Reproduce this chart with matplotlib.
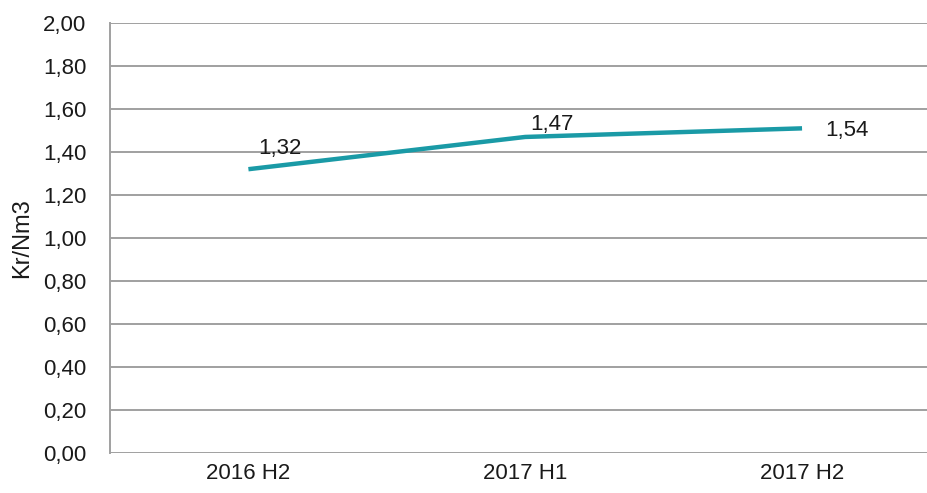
import matplotlib.pyplot as plt

plt.rcParams['font.family'] = ['Liberation Sans', 'DejaVu Sans']

periods = ['2016 H2', '2017 H1', '2017 H2']
prices = [1.32, 1.47, 1.51]
price_labels = ['1,32', '1,47', '1,54']
yticks = [0.0, 0.2, 0.4, 0.6, 0.8, 1.0, 1.2, 1.4, 1.6, 1.8, 2.0]

fig = plt.figure(figsize=(9.28, 4.93), dpi=100)
ax = fig.add_axes([110 / 928, 40 / 493, 818 / 928, 430 / 493])

x = list(range(len(periods)))
ax.plot(x, prices, color='#1a9aa6', lw=3.2, solid_capstyle='butt', zorder=3)

# label offsets in pixels
offsets = [(32, 21), (27, 12), (45, -2)]
for xi, yi, lab, off in zip(x, prices, price_labels, offsets):
    ax.annotate(lab, (xi, yi), xytext=off, textcoords='offset pixels',
                ha='center', va='center', fontsize=16, color='#1a1a1a')

ax.set_xlim(-0.5, 2.455)
ax.set_ylim(0, 2.0)
ax.set_yticks(yticks)
ax.set_yticklabels([f'{v:.2f}'.replace('.', ',') for v in yticks])
ax.set_xticks(x)
ax.set_xticklabels(periods)
ax.tick_params(length=0, labelsize=16, colors='#1a1a1a')
ax.tick_params(axis='x', pad=7)
ax.tick_params(axis='y', pad=17)
ax.grid(axis='y', color='#a0a0a0', lw=1.4)
ax.set_axisbelow(True)
for s in ['top', 'right', 'bottom']:
    ax.spines[s].set_visible(False)
ax.spines['left'].set_color('#a0a0a0')
ax.spines['left'].set_linewidth(1.4)
ax.set_ylabel('Kr/Nm3', fontsize=17, color='#1a1a1a')
ax.yaxis.set_label_coords(-77 / 818, 0.5)

fig.savefig('out.png', dpi=100)
